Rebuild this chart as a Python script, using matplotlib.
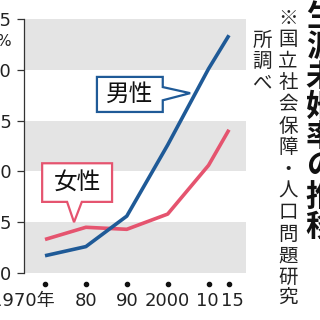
import matplotlib
matplotlib.use("Agg")
import matplotlib.pyplot as plt
from matplotlib import font_manager
from matplotlib.patches import Polygon
from matplotlib.transforms import blended_transform_factory

# data (国立社会保障・人口問題研究所)
years = [1970, 1980, 1990, 2000, 2010, 2015]
year_labels = ["1970年", "80", "90", "2000", "10", "15"]
male = [1.7, 2.6, 5.6, 12.6, 20.1, 23.4]
female = [3.3, 4.5, 4.3, 5.8, 10.6, 14.1]
y_ticks = [0, 5, 10, 15, 20, 25]

title = "生涯未婚率の推移"
note_1 = "※国立社会保障・人口問題研究"
note_2 = "所調べ"

BLUE = "#1f5a97"
PINK = "#e5546f"
GRAY = "#e4e4e4"

names = {f.name for f in font_manager.fontManager.ttflist}
num_font = "Liberation Sans Narrow" if "Liberation Sans Narrow" in names else "DejaVu Sans"
num_size = 17 if num_font != "DejaVu Sans" else 13
cjk = "Noto Sans CJK JP"

fig = plt.figure(figsize=(3.2, 3.2), dpi=100)
W = H = 320.0


def px(x, y):
    return x / W, 1 - y / H


ax = fig.add_axes([24 / W, 47 / H, 222 / W, 254 / H])
ax.set_xlim(1964.86, 2019.16)
ax.set_ylim(0, 25)

# background bands
for lo in [0, 10, 20]:
    ax.axhspan(lo, lo + 5, color=GRAY, lw=0, zorder=0)

ax.plot(years, female, color=PINK, lw=2.6, solid_capstyle="butt", zorder=3)
ax.plot(years, male, color=BLUE, lw=2.6, solid_capstyle="butt", zorder=4)

for s in ["top", "right", "bottom"]:
    ax.spines[s].set_visible(False)
ax.spines["left"].set_color("#333333")
ax.spines["left"].set_linewidth(0.9)

ax.set_xticks([])
ax.set_yticks(y_ticks)
ax.set_yticklabels([str(v) for v in y_ticks], fontfamily=num_font, fontsize=num_size, color="#222222")
ax.tick_params(axis="y", direction="out", length=5, width=0.9, color="#333333", pad=4)
fig.text(*px(11, 41), "%", ha="right", va="center", fontfamily=num_font,
         fontsize=num_size - 2, color="#222222")

# x labels with dots
trans = blended_transform_factory(ax.transData, ax.transAxes)
ax.plot(years, [-0.043] * len(years), "o", ms=3, color="#111111",
        transform=trans, clip_on=False)
shift = {"15": 0.8, "10": -0.2}
for yr, lab in zip(years, year_labels):
    if lab.endswith("年"):
        ax.text(yr + 2.4, -0.112, lab, transform=trans, ha="right", va="center",
                fontfamily=[num_font, cjk], fontsize=num_size, color="#222222")
    else:
        ax.text(yr + shift.get(lab, 0), -0.112, lab, transform=trans, ha="center", va="center",
                fontfamily=num_font, fontsize=num_size, color="#222222")

# callouts
male_box = [(1982.7, 19.3), (1998.8, 19.3), (1998.8, 18.3), (2005.5, 17.7),
            (1998.8, 17.0), (1998.8, 15.85), (1982.7, 15.85)]
ax.add_patch(Polygon(male_box, closed=True, fc="white", ec=BLUE, lw=1.6, zorder=5))
ax.text(1990.75, 17.55, "男性", ha="center", va="center", fontfamily=cjk,
        fontsize=17, color="#111111", zorder=6)

female_box = [(1969.3, 10.8), (1986.4, 10.8), (1986.4, 7.0), (1979.0, 7.0),
              (1977.1, 5.0), (1975.4, 7.0), (1969.3, 7.0)]
ax.add_patch(Polygon(female_box, closed=True, fc="white", ec=PINK, lw=1.6, zorder=5))
ax.text(1977.85, 8.9, "女性", ha="center", va="center", fontfamily=cjk,
        fontsize=17, color="#111111", zorder=6)

# vertical title and note
for i, ch in enumerate(title):
    fig.text(*px(321, 17 + 30 * i), ch, ha="center", va="center", fontfamily=cjk,
             fontweight="bold", fontsize=22, color="#111111")
for i, ch in enumerate(note_1):
    fig.text(*px(288, 18 + 21.6 * i), ch, ha="center", va="center", fontfamily=cjk,
             fontsize=14, color="#222222")
for i, ch in enumerate(note_2):
    fig.text(*px(262, 40 + 21.6 * i), ch, ha="center", va="center", fontfamily=cjk,
             fontsize=14, color="#222222")

fig.savefig("out.png", dpi=100)
